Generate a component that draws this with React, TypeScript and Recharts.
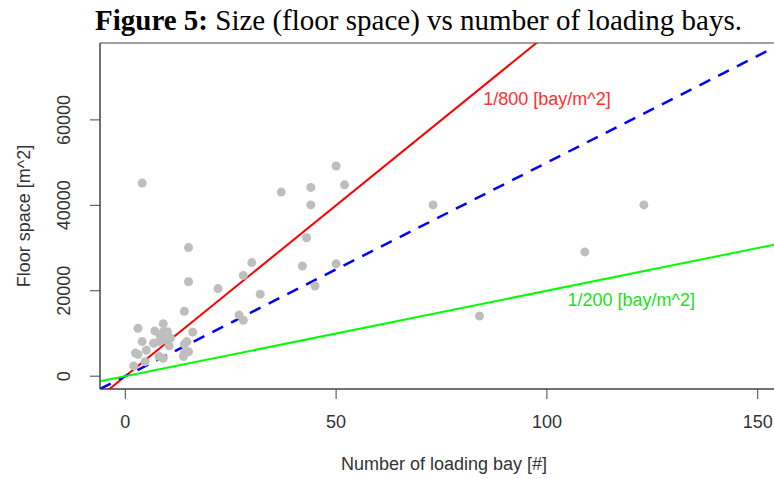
import {
  ComposedChart,
  Scatter,
  XAxis,
  YAxis,
  ReferenceLine,
  ReferenceArea,
  ReferenceDot,
} from "recharts";

// loading bays per site and the matching floor space (m^2)
const bays = [
  4, 15, 15, 22, 30, 28, 32, 37, 44, 52, 50, 44, 43, 42, 45, 50,
  14, 27, 28, 16, 3, 7, 9, 10, 4, 5, 3, 8, 9, 10.4, 10.7, 8, 9,
  14, 15, 2, 4.7, 14, 9.1, 8.3, 2.4, 6.7, 14.6, 13.8, 73, 123, 109, 84,
];
const floorSpace = [
  45200, 30100, 22100, 20500, 26600, 23600, 19200, 43100, 44200, 44800, 49200, 40100, 32400, 25800, 21100, 26300,
  15200, 14300, 13100, 10300, 11200, 10600, 12300, 10400, 8100, 6100, 5100, 8100, 8500, 7100, 8900, 4600, 4200,
  5400, 5700, 2400, 3400, 7500, 10400, 9600, 5400, 7700, 8100, 4600, 40100, 40100, 29100, 14100,
];

const xTicks = [0, 50, 100, 150];
const yTicks = [0, 20000, 40000, 60000];
const xDomain = [-6, 156];
const yDomain = [-3000, 78000];

// floor space per bay for each reference line
const ratioRed = 800;
const ratioBlue = 500;
const ratioGreen = 200;
const labelRed = "1/800 [bay/m^2]";
const labelGreen = "1/200 [bay/m^2]";
const labelRedAt = { x: 100, y: 65000 };
const labelGreenAt = { x: 120, y: 18000 };

const points = bays.map((b, i) => ({ x: b, y: floorSpace[i] }));

const seg = (k: number) => [
  { x: xDomain[0], y: xDomain[0] * k },
  { x: xDomain[1], y: xDomain[1] * k },
];

const sans = "'Liberation Sans', Arial, Helvetica, sans-serif";
const ink = "#333";
const axisCol = "#444";

const XTick = (p: any) => (
  <text x={p.x} y={p.y} dy={21} textAnchor="middle" dominantBaseline="central"
    fontFamily={sans} fontSize={18} fill={ink}>
    {p.payload.value}
  </text>
);

const YTick = (p: any) => {
  const cx = p.x - 24;
  return (
    <text x={cx} y={p.y} transform={`rotate(-90, ${cx}, ${p.y})`} textAnchor="middle"
      dominantBaseline="central" fontFamily={sans} fontSize={18} fill={ink}>
      {p.payload.value}
    </text>
  );
};

const Dot = (p: any) => <circle cx={p.cx} cy={p.cy} r={4.5} fill="#bebebe" />;

export default function App() {
  return (
    <div style={{ position: "fixed", left: 0, top: 0, width: 774, height: 479, overflow: "hidden", background: "#fff" }}>
      <div style={{ position: "absolute", left: 95, top: 3, fontFamily: "'Liberation Serif', 'Times New Roman', serif",
        fontSize: 29, lineHeight: "34px", color: "#000", whiteSpace: "nowrap" }}>
        <b>Figure 5:</b> Size (floor space) vs number of loading bays.
      </div>
      <div style={{ position: "absolute", left: 0, top: 0 }}>
        <ComposedChart width={790} height={479} margin={{ top: 43, right: 7, bottom: 0, left: 0 }}>
          <XAxis type="number" dataKey="x" domain={xDomain} ticks={xTicks} allowDataOverflow
            height={90} tickSize={10} stroke={axisCol} tick={<XTick />} />
          <YAxis type="number" dataKey="y" domain={yDomain} ticks={yTicks} allowDataOverflow
            width={100} tickSize={10} stroke={axisCol} tick={<YTick />} />
          <ReferenceArea x1={xDomain[0]} x2={xDomain[1]} y1={yDomain[0]} y2={yDomain[1]}
            fill="none" stroke={axisCol} strokeWidth={1} fillOpacity={0} />
          <Scatter data={points} shape={<Dot />} isAnimationActive={false} />
          <ReferenceLine segment={seg(ratioRed)} stroke="#ff0000" strokeWidth={2} ifOverflow="hidden" />
          <ReferenceLine segment={seg(ratioBlue)} stroke="#0000ff" strokeWidth={2.5} strokeDasharray="12 9" ifOverflow="hidden" />
          <ReferenceLine segment={seg(ratioGreen)} stroke="#00ff00" strokeWidth={2} ifOverflow="hidden" />
          <ReferenceDot x={labelRedAt.x} y={labelRedAt.y} r={0} stroke="none"
            label={{ value: labelRed, fill: "#ff3030", fontSize: 18, fontFamily: sans, position: "center" }} />
          <ReferenceDot x={labelGreenAt.x} y={labelGreenAt.y} r={0} stroke="none"
            label={{ value: labelGreen, fill: "#20e020", fontSize: 18, fontFamily: sans, position: "center" }} />
        </ComposedChart>
      </div>
      <div style={{ position: "absolute", left: 341, width: 200, top: 454, textAlign: "center", fontFamily: sans, fontSize: 18, color: ink, whiteSpace: "nowrap" }}>
        Number of loading bay [#]
      </div>
      <div style={{ position: "absolute", left: 24, top: 216, transform: "translate(-50%, -50%) rotate(-90deg)", fontFamily: sans, fontSize: 18, color: ink, whiteSpace: "nowrap" }}>
        Floor space [m^2]
      </div>
    </div>
  );
}
